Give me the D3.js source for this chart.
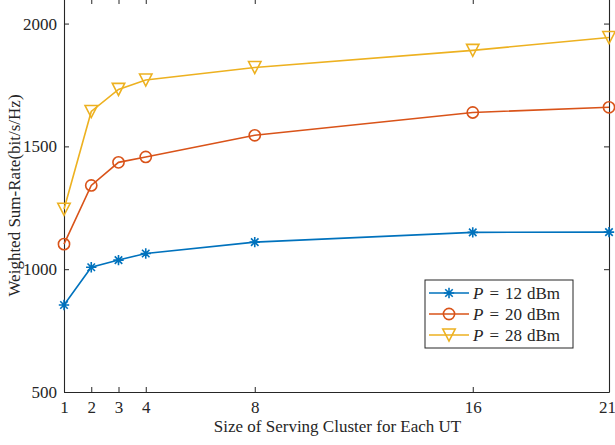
<!DOCTYPE html>
<html>
<head>
<meta charset="utf-8">
<script src="https://cdn.jsdelivr.net/npm/d3@7"></script>
<style>
  html, body { margin: 0; padding: 0; background: #fff; }
  svg { display: block; }
  text { font-family: "Liberation Serif", "DejaVu Serif", serif; fill: #262626; }
</style>
</head>
<body>
<svg id="chart" width="615" height="445"></svg>
<script>
// Cluster sizes (x) and weighted sum-rate per transmit power
const clusterSizes = [1, 2, 3, 4, 8, 16, 21];
const rateP12 = [854, 1008, 1037, 1064, 1110, 1150, 1151];
const rateP20 = [1102, 1341, 1435, 1457, 1545, 1638, 1659];
const rateP28 = [1244, 1642, 1732, 1770, 1821, 1891, 1943];
const seriesNames = ["12", "20", "28"];
const xTicks = [1, 2, 3, 4, 8, 16, 21];
const yTicks = [500, 1000, 1500, 2000];

const svg = d3.select("#chart");
const plotLeft = 64, plotRight = 609, plotTop = -1, plotBottom = 392;
const axisColor = "#262626";
const serif = "'Liberation Serif', 'DejaVu Serif', serif";

const x = d3.scaleLinear().domain([1, 21]).range([plotLeft, plotRight]);
const y = d3.scaleLinear().domain([500, 2100]).range([plotBottom, plotTop]);

const series = [
  { name: seriesNames[0], values: rateP12, color: "#0072BD", marker: "star" },
  { name: seriesNames[1], values: rateP20, color: "#D95319", marker: "circle" },
  { name: seriesNames[2], values: rateP28, color: "#EDB120", marker: "tri" }
];

// axes box with inward ticks on all four sides
const tickLen = 5;
const fmt = d3.format("d");
const axB = svg.append("g").attr("transform", `translate(0,${plotBottom})`)
  .call(d3.axisBottom(x).tickValues(xTicks).tickFormat(fmt).tickSize(-tickLen).tickPadding(9).tickSizeOuter(0));
const axT = svg.append("g").attr("transform", `translate(0,${plotTop})`)
  .call(d3.axisTop(x).tickValues(xTicks).tickSize(-tickLen).tickFormat("").tickSizeOuter(0));
const axL = svg.append("g").attr("transform", `translate(${plotLeft},0)`)
  .call(d3.axisLeft(y).tickValues(yTicks).tickFormat(fmt).tickSize(-tickLen).tickPadding(7).tickSizeOuter(0));
const axR = svg.append("g").attr("transform", `translate(${plotRight},0)`)
  .call(d3.axisRight(y).tickValues(yTicks).tickSize(-tickLen).tickFormat("").tickSizeOuter(0));

[axB, axT, axL, axR].forEach(g => {
  g.attr("font-family", serif);
  g.selectAll("path.domain").attr("stroke", axisColor).attr("stroke-width", 1.1);
  g.selectAll(".tick line").attr("stroke", axisColor).attr("stroke-width", 1);
  g.selectAll(".tick text").attr("font-size", 17).attr("fill", axisColor);
});
axB.selectAll(".tick text").attr("dy", "0.71em")
  .attr("dx", d => d === 21 ? -2 : 0);

// data lines
const line = d3.line().x((d, i) => x(clusterSizes[i])).y(d => y(d));
const plot = svg.append("g");

function drawMarker(g, type, color, cx, cy) {
  if (type === "circle") {
    g.append("circle").attr("cx", cx).attr("cy", cy).attr("r", 5.6)
      .attr("fill", "none").attr("stroke", color).attr("stroke-width", 1.6);
  } else if (type === "tri") {
    const w = 6.2, h = 6;
    g.append("path")
      .attr("d", `M${cx - w},${cy - h}L${cx + w},${cy - h}L${cx},${cy + h}Z`)
      .attr("fill", "none").attr("stroke", color).attr("stroke-width", 1.6)
      .attr("stroke-linejoin", "miter");
  } else {
    const r = 5.2, d = r * 0.72;
    g.append("path")
      .attr("d", `M${cx},${cy - r}V${cy + r}M${cx - r},${cy}H${cx + r}` +
        `M${cx - d},${cy - d}L${cx + d},${cy + d}M${cx - d},${cy + d}L${cx + d},${cy - d}`)
      .attr("fill", "none").attr("stroke", color).attr("stroke-width", 1.6);
  }
}

series.forEach(s => {
  plot.append("path").datum(s.values).attr("d", line)
    .attr("fill", "none").attr("stroke", s.color).attr("stroke-width", 1.6);
  const mg = plot.append("g");
  s.values.forEach((v, i) => drawMarker(mg, s.marker, s.color, x(clusterSizes[i]), y(v)));
});

// axis titles
svg.append("text").attr("x", (plotLeft + plotRight) / 2 + 1).attr("y", 432)
  .attr("text-anchor", "middle").attr("font-size", 17)
  .text("Size of Serving Cluster for Each UT");
svg.append("text")
  .attr("transform", `translate(20,${(plotTop + plotBottom) / 2}) rotate(-90)`)
  .attr("text-anchor", "middle").attr("font-size", 17)
  .text("Weighted Sum-Rate(bit/s/Hz)");

// legend
const lg = svg.append("g");
const lx = 425, ly = 280, lw = 148, lh = 68;
lg.append("rect").attr("x", lx).attr("y", ly).attr("width", lw).attr("height", lh)
  .attr("fill", "#fff").attr("stroke", axisColor).attr("stroke-width", 1);
series.forEach((s, i) => {
  const cy = ly + 13 + i * 21;
  lg.append("line").attr("x1", lx + 4).attr("x2", lx + 44).attr("y1", cy).attr("y2", cy)
    .attr("stroke", s.color).attr("stroke-width", 1.6);
  drawMarker(lg, s.marker, s.color, lx + 24, cy);
  const t = lg.append("text").attr("x", lx + 48).attr("y", cy + 5.5).attr("font-size", 17);
  t.append("tspan").attr("font-style", "italic").text("P");
  t.append("tspan").attr("dx", 6).text("=");
  t.append("tspan").attr("dx", 6).text(s.name);
  t.append("tspan").attr("dx", 5).text("dBm");
});
</script>
</body>
</html>
